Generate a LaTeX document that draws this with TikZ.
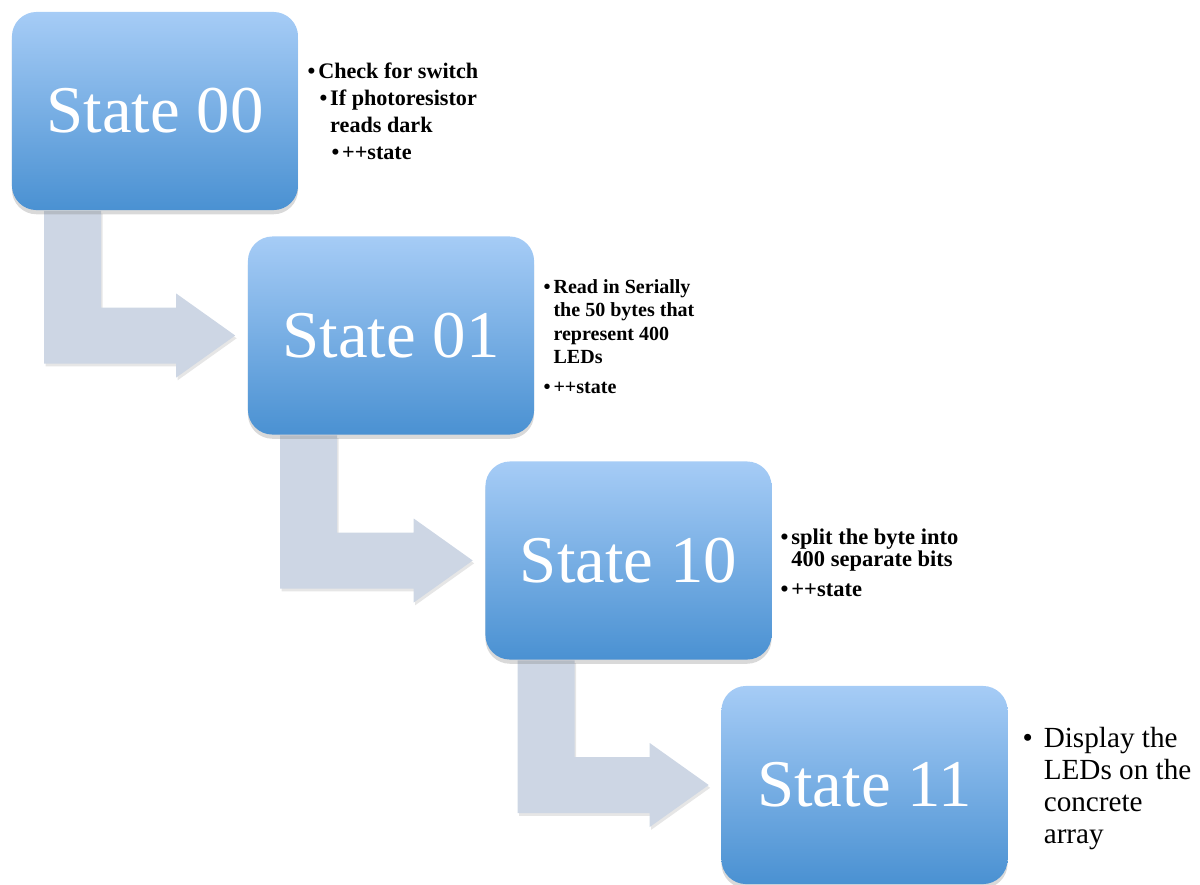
\documentclass[tikz,border=0pt]{standalone}
\usepackage{fontspec}
\setmainfont{Liberation Serif}
\usetikzlibrary{calc,shadows}

\definecolor{boxtop}{RGB}{166,204,246}
\definecolor{boxbot}{RGB}{74,145,210}
\definecolor{arrowgray}{RGB}{205,214,228}

\pgfdeclarelayer{back}
\pgfsetlayers{back,main}

\newcommand{\bul}{\textbullet\hspace{0.8pt}}

\begin{document}
\begin{tikzpicture}[x=0.01cm,y=-0.01cm,
    statebox/.style={rounded corners=7pt, top color=boxtop, bottom color=boxbot,
        minimum width=2.86cm, minimum height=1.98cm, inner sep=0pt, text=white,
        font=\fontsize{19}{22}\selectfont,
        drop shadow={opacity=0.3, shadow xshift=0pt, shadow yshift=-1.2pt}},
    note/.style={anchor=north west, align=left, inner sep=0pt},
    bent/.style={fill=arrowgray, drop shadow={opacity=0.2, shadow xshift=0.4pt, shadow yshift=-0.8pt}}]
    \useasboundingbox (0,0) rectangle (1200,884);

    % states
    \node [statebox] (s00) at (155,111) {State 00};
    \node [statebox] (s01) at (391,335.5) {State 01};
    \node [statebox] (s10) at (628.5,560.5) {State 10};
    \node [statebox] (s11) at (864.5,785) {State 11};

    % bent arrows behind the states
    \begin{pgfonlayer}{back}
    \foreach \a/\b in {s00/s01,s01/s10,s10/s11}
        \fill [bent] ($(\a.south west)+(33,0)$) -- ++(57,0) |- ($(\b.west)+(-71,-28)$)
            -- ++(0,-14) -- ($(\b.west)+(-12,0)$) -- ++(-59,42) -- ++(0,-14)
            -| ($(\a.south west)+(33,0)$) -- cycle;
    \end{pgfonlayer}

    % notes
    \node [note, font=\bfseries\fontsize{6.3}{7.7}\selectfont] (n00) at (307,62)
        {\bul Check for switch\\
         \hspace*{3.4pt}\bul If photoresistor\\
         \hspace*{3.4pt}\phantom{\bul}reads dark\\
         \hspace*{6.8pt}\bul ++state};
    \node [note, font=\bfseries\fontsize{5.7}{6.6}\selectfont] (n01) at (543,279)
        {\bul Read in Serially\\
         \phantom{\bul}the 50 bytes that\\
         \phantom{\bul}represent 400\\
         \phantom{\bul}LEDs\\[2pt]
         \bul ++state};
    \node [note, font=\bfseries\fontsize{6.4}{6.4}\selectfont] (n10) at (780,528)
        {\bul split the byte into\\
         \phantom{\bul}400 separate bits\\[2pt]
         \bul ++state};
    \node [note, font=\fontsize{8.3}{9.1}\selectfont] (n11) at (1022,727)
        {\makebox[6pt][l]{\textbullet}Display the\\
         \hspace*{6pt}LEDs on the\\
         \hspace*{6pt}concrete\\
         \hspace*{6pt}array};
\end{tikzpicture}
\end{document}
